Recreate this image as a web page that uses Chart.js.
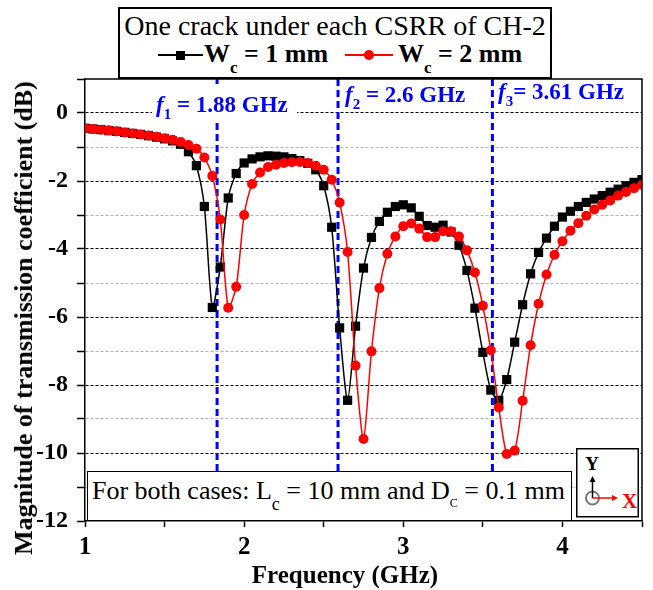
<!DOCTYPE html>
<html lang="en">
<head>
<meta charset="UTF-8">
<title>Magnitude of transmission coefficient</title>
<script src="https://cdn.jsdelivr.net/npm/chart.js"></script>
<style>
  body { margin: 0; background: #fff; font-family: "Liberation Serif", "Times New Roman", serif; }
  #wrap { position: relative; width: 653px; height: 590px; }
  .lbl { position: absolute; white-space: nowrap; line-height: 1; color: #000; }
  .box { position: absolute; background: #fff; border: 1.5px solid #000; box-sizing: border-box; }
  .sub { position: relative; }
  .blue { color: #0000ff; font-weight: bold; font-size: 23px; }
  .blue i { font-style: italic; }
  .bold { font-weight: bold; }
</style>
</head>
<body>
<div id="wrap">
  <canvas id="chart"></canvas>

  <!-- legend -->
  <div class="box" style="left:118px;top:7px;width:434px;height:72px;border-width:2px;"></div>
  <div class="lbl" style="left:118px;width:434px;top:11.5px;text-align:center;font-size:28px;">One crack under each CSRR of CH-2</div>
  <div style="position:absolute;left:158px;top:54px;width:45px;height:1.5px;background:#000;"></div>
  <div style="position:absolute;left:176px;top:50.5px;width:9px;height:9px;background:#000;"></div>
  <div class="lbl bold" style="left:204px;top:41.2px;font-size:26px;">W<span class="sub" style="font-size:17px;top:11px;">c</span> = 1 mm</div>
  <div style="position:absolute;left:345px;top:54px;width:48px;height:1.5px;background:#f00;"></div>
  <div style="position:absolute;left:364px;top:50px;width:10px;height:10px;border-radius:50%;background:#f00;"></div>
  <div class="lbl bold" style="left:398px;top:41.2px;font-size:26px;">W<span class="sub" style="font-size:17px;top:11px;">c</span> = 2 mm</div>

  <!-- resonance labels -->
  <div style="position:absolute;left:152px;top:84px;width:145px;height:38px;background:#fff;"></div>
  <div class="lbl blue" style="left:156px;top:92.5px;"><i>f</i><span class="sub" style="font-size:15px;top:7px;">1</span> = 1.88 GHz</div>
  <div class="lbl blue" style="left:345px;top:82.5px;"><i>f</i><span class="sub" style="font-size:15px;top:7px;">2</span> = 2.6 GHz</div>
  <div class="lbl blue" style="left:498px;top:80px;"><i>f</i><span class="sub" style="font-size:15px;top:7px;">3</span>= 3.61 GHz</div>

  <!-- note box -->
  <div class="box" style="left:87px;top:471px;width:485px;height:50px;"></div>
  <div class="lbl" style="left:92px;top:478.2px;font-size:26px;">For both cases: L<span class="sub" style="font-size:18px;top:11px;">c</span> = 10 mm and D<span class="sub" style="font-size:12px;top:8px;">C</span> = 0.1 mm</div>

  <!-- axis indicator -->
  <svg style="position:absolute;left:576px;top:448px;" width="63" height="70">
    <rect x="0.75" y="0.75" width="61.5" height="68" fill="#fff" stroke="#000" stroke-width="1.5"/>
    <text x="16" y="22" text-anchor="middle" font-family="Liberation Serif" font-weight="bold" font-size="19" fill="#000">Y</text>
    <circle cx="16.5" cy="50" r="6.5" fill="none" stroke="#777" stroke-width="2"/>
    <line x1="16.5" y1="50" x2="16.5" y2="31" stroke="#000" stroke-width="1.5"/>
    <polygon points="16.5,28 13.5,34 19.5,34" fill="#000"/>
    <line x1="16.5" y1="50" x2="38" y2="50" stroke="#f00" stroke-width="1.5"/>
    <polygon points="42,50 36,47 36,53" fill="#f00"/>
    <text x="53.5" y="60" text-anchor="middle" font-family="Liberation Serif" font-weight="bold" font-size="21" fill="#f00">X</text>
  </svg>

  <!-- axis titles -->
  <div class="lbl bold" style="left:24px;top:318px;font-size:26px;transform:translate(-50%,-50%) rotate(-90deg);">Magnitude of transmission coefficient (dB)</div>
  <div class="lbl bold" style="left:345px;top:562px;font-size:25px;transform:translateX(-50%);">Frequency (GHz)</div>
</div>

<script>
const freqGHz = [
  1.00, 1.05, 1.10, 1.15, 1.20, 1.25, 1.30, 1.35, 1.40, 1.45,
  1.50, 1.55, 1.60, 1.65, 1.70, 1.75, 1.80, 1.85, 1.90, 1.95,
  2.00, 2.05, 2.10, 2.15, 2.20, 2.25, 2.30, 2.35, 2.40, 2.45,
  2.50, 2.55, 2.60, 2.65, 2.70, 2.75, 2.80, 2.85, 2.90, 2.95,
  3.00, 3.05, 3.10, 3.15, 3.20, 3.25, 3.30, 3.35, 3.40, 3.45,
  3.50, 3.55, 3.60, 3.65, 3.70, 3.75, 3.80, 3.85, 3.90, 3.95,
  4.00, 4.05, 4.10, 4.15, 4.20, 4.25, 4.30, 4.35, 4.40, 4.45,
  4.50
];

// Wc = 1 mm (black squares)
const s21Wc1 = [
  -0.45, -0.47, -0.49, -0.52, -0.54, -0.57, -0.60, -0.63, -0.67, -0.71,
  -0.76, -0.82, -0.92, -1.14, -1.55, -2.75, -5.72, -4.53, -2.50, -1.78,
  -1.47, -1.35, -1.29, -1.26, -1.27, -1.29, -1.34, -1.40, -1.48, -1.67,
  -2.14, -3.36, -6.32, -8.45, -6.27, -4.56, -3.66, -3.19, -2.92, -2.75,
  -2.70, -2.79, -3.04, -3.31, -3.36, -3.30, -3.50, -3.89, -4.63, -5.74,
  -7.04, -8.15, -8.45, -7.84, -6.74, -5.64, -4.73, -4.10, -3.68, -3.33,
  -3.06, -2.89, -2.75, -2.63, -2.53, -2.43, -2.33, -2.24, -2.14, -2.04,
  -1.96
];

// Wc = 2 mm (red circles)
const s21Wc2 = [
  -0.45, -0.47, -0.49, -0.51, -0.54, -0.57, -0.60, -0.63, -0.66, -0.70,
  -0.74, -0.79, -0.85, -0.94, -1.05, -1.31, -1.85, -3.13, -5.73, -5.11,
  -3.00, -2.09, -1.75, -1.59, -1.52, -1.47, -1.45, -1.44, -1.47, -1.55,
  -1.67, -1.96, -2.63, -4.09, -7.43, -9.59, -7.01, -5.15, -4.14, -3.63,
  -3.33, -3.25, -3.40, -3.65, -3.65, -3.48, -3.48, -3.63, -4.04, -4.69,
  -5.67, -6.98, -8.66, -10.03, -9.93, -8.46, -6.83, -5.61, -4.75, -4.17,
  -3.77, -3.46, -3.24, -3.02, -2.84, -2.70, -2.57, -2.43, -2.32, -2.21,
  -2.11
];

// where the dashed resonance markers are drawn
const resonanceGHz = [1.83, 2.59, 3.56];

const xTickLabels = [1, 2, 3, 4];
const yTickLabels = [0, -2, -4, -6, -8, -10, -12];

const serif = '"Liberation Serif", "Times New Roman", serif';

const resonanceLines = {
  id: 'resonanceLines',
  beforeDatasetsDraw(chart) {
    const { ctx, chartArea: a, scales: { x } } = chart;
    ctx.save();
    ctx.strokeStyle = '#0000ff';
    ctx.lineWidth = 3;
    ctx.setLineDash([7, 4]);
    resonanceGHz.forEach(f => {
      const px = x.getPixelForValue(f);
      ctx.beginPath();
      ctx.moveTo(px, a.top);
      ctx.lineTo(px, a.bottom);
      ctx.stroke();
    });
    ctx.restore();
  },
  afterDraw(chart) {
    const { ctx, chartArea: a } = chart;
    ctx.save();
    ctx.strokeStyle = '#000';
    ctx.lineWidth = 1.5;
    ctx.beginPath();
    ctx.moveTo(a.left, a.top);
    ctx.lineTo(a.right, a.top);
    ctx.lineTo(a.right, a.bottom);
    ctx.stroke();
    ctx.restore();
  }
};

const toPoints = ys => freqGHz.map((f, i) => ({ x: f, y: ys[i] }));

new Chart(document.getElementById('chart'), {
  type: 'line',
  data: {
    datasets: [
      {
        label: 'Wc = 1 mm',
        data: toPoints(s21Wc1),
        borderColor: '#000',
        backgroundColor: '#000',
        borderWidth: 1.5,
        pointStyle: 'rect',
        pointRadius: 6.5,
        pointBorderWidth: 0,
        tension: 0.25,
        order: 2
      },
      {
        label: 'Wc = 2 mm',
        data: toPoints(s21Wc2),
        borderColor: '#ff0000',
        backgroundColor: '#ff0000',
        borderWidth: 1.5,
        pointStyle: 'circle',
        pointRadius: 5,
        pointBorderWidth: 0,
        tension: 0.25,
        order: 1
      }
    ]
  },
  options: {
    responsive: true,
    maintainAspectRatio: false,
    animation: false,
    layout: { padding: { left: 0, right: 11, top: 79, bottom: 0 } },
    plugins: {
      legend: { display: false },
      tooltip: { enabled: false }
    },
    scales: {
      x: {
        type: 'linear',
        min: 1,
        max: 4.5,
        afterFit(s) { s.height = 69; },
        ticks: {
          stepSize: 0.5,
          autoSkip: false,
          maxRotation: 0,
          padding: 6,
          color: '#000',
          font: { family: serif, size: 25, weight: 'bold' },
          callback: v => xTickLabels.includes(v) ? String(v) : ''
        },
        grid: { drawOnChartArea: false, drawTicks: true, tickLength: 6, tickColor: '#000', tickWidth: 1.5 },
        border: { color: '#000', width: 1.5 }
      },
      y: {
        min: -12,
        max: 1,
        afterFit(s) { s.width = 85; },
        ticks: {
          stepSize: 1,
          autoSkip: false,
          padding: 9,
          color: '#000',
          font: { family: serif, size: 24, weight: 'bold' },
          callback: v => yTickLabels.includes(v) ? String(v) : ''
        },
        grid: {
          color: c => {
            const v = c.tick.value;
            if (v <= -12 || v >= 1) return 'rgba(0,0,0,0)';
            return v % 2 === 0 ? '#000' : '#b4b4b4';
          },
          lineWidth: 1,
          tickLength: 8,
          tickColor: '#000',
          tickWidth: 1.5
        },
        border: { color: '#000', width: 1.5, dash: [3, 2] }
      }
    }
  },
  plugins: [resonanceLines]
});
</script>
</body>
</html>
